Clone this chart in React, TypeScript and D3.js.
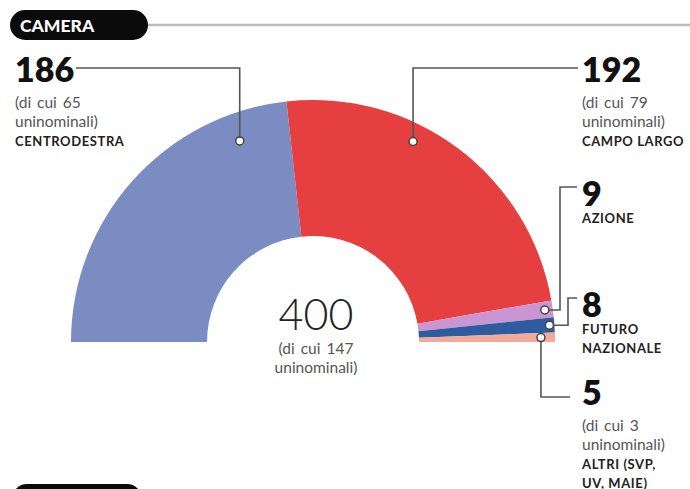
import React from "react";
import * as d3 from "d3";

// seats per coalition, Camera
const parties = ["CENTRODESTRA", "CAMPO LARGO", "AZIONE", "FUTURO NAZIONALE", "ALTRI"];
const seats = [186, 192, 9, 8, 5];
const uninominali = [65, 79, null, null, 3];
const colors = ["#7a8cc2", "#e63f40", "#c996d2", "#2f5b9f", "#f4a99b"];
const totalSeats = 400;
const totalUninominali = 147;

// label block lines (names broken as in the print)
const nameLines = [["CENTRODESTRA"], ["CAMPO LARGO"], ["AZIONE"], ["FUTURO", "NAZIONALE"], ["ALTRI (SVP,", "UV, MAIE)"]];

const W = 690;
const H = 489;
const cx = 313;
const cy = 342;
const outerR = 242;
const innerR = 106;

// where the dot sits inside each slice (fraction of the angle, radius) and where the text goes
const dotT = [0.836, 0.38, 0.5, 0.5, 0.5];
const dotR = [214, 224, 234, 237, 228];
const labelPos = [
  { x: 15, y: 82 },
  { x: 582, y: 82 },
  { x: 582, y: 206 },
  { x: 582, y: 317 },
  { x: 582, y: 405 },
];

const font = "Lato, 'Open Sans', sans-serif";

export default function App() {
  const pie = d3
    .pie<number>()
    .sort(null)
    .value((d) => d)
    .startAngle(-Math.PI / 2)
    .endAngle(Math.PI / 2);
  const arcs = pie(seats);
  const arc = d3.arc<d3.PieArcDatum<number>>().innerRadius(innerR).outerRadius(outerR);

  const dots = arcs.map((a, i) => {
    const ang = a.startAngle + (a.endAngle - a.startAngle) * dotT[i];
    return { x: cx + dotR[i] * Math.sin(ang), y: cy - dotR[i] * Math.cos(ang) };
  });

  // leader paths
  const leaders = [
    `M${labelPos[0].x + 61},${labelPos[0].y - 14}H${dots[0].x}V${dots[0].y}`,
    `M${labelPos[1].x - 4},${labelPos[1].y - 14}H${dots[1].x}V${dots[1].y}`,
    `M${labelPos[2].x - 5},${labelPos[2].y - 19}H${labelPos[2].x - 22}V${dots[2].y}H${dots[2].x}`,
    `M${labelPos[3].x - 5},${labelPos[3].y - 19}H${labelPos[3].x - 14}V${dots[3].y}H${dots[3].x}`,
    `M${labelPos[4].x - 12},${labelPos[4].y - 8}H${dots[4].x}V${dots[4].y}`,
  ];

  return (
    <svg width={W} height={H} style={{ position: "absolute", left: 0, top: 0, background: "#fff" }}>
      {/* header */}
      <line x1={140} x2={W} y1={25} y2={25} stroke="#bdbdbd" strokeWidth={2.5} />
      <rect x={10} y={10} width={138} height={30} rx={15} fill="#0b0b0b" />
      <text x={20} y={31.5} fill="#fff" fontFamily={font} fontWeight={900} fontSize={17.5}>
        CAMERA
      </text>
      <rect x={12} y={484} width={130} height={30} rx={15} fill="#0b0b0b" />

      {arcs.map((a, i) => (
        <path key={i} d={arc(a) || ""} transform={`translate(${cx},${cy})`} fill={colors[i]} />
      ))}

      {leaders.map((d, i) => (
        <path key={i} d={d} fill="none" stroke="#555" strokeWidth={1.6} />
      ))}
      {dots.map((p, i) => (
        <circle key={i} cx={p.x} cy={p.y} r={4} fill="#fff" stroke="#444" strokeWidth={1.5} />
      ))}

      {seats.map((s, i) => {
        const p = labelPos[i];
        const lines: { t: string; bold: boolean }[] = [];
        if (uninominali[i] !== null) {
          lines.push({ t: `(di cui ${uninominali[i]}`, bold: false });
          lines.push({ t: "uninominali)", bold: false });
        }
        nameLines[i].forEach((t) => lines.push({ t, bold: true }));
        const firstGap = uninominali[i] !== null ? 26 : 17;
        return (
          <g key={i} fontFamily={font}>
            <text x={p.x} y={p.y} fontSize={34} fontWeight={800} fill="#111">
              {s}
            </text>
            {lines.map((l, j) => (
              <text
                key={j}
                x={p.x}
                y={p.y + firstGap + j * 19}
                fontSize={l.bold ? 13 : 15.5}
                fontWeight={l.bold ? 700 : 400}
                fill={l.bold ? "#222" : "#555"}
                letterSpacing={l.bold ? 0.6 : 0}
                wordSpacing={l.bold ? 0 : 2}
              >
                {l.t}
              </text>
            ))}
          </g>
        );
      })}

      {/* total in the hole */}
      <text x={cx + 3} y={330} textAnchor="middle" fontFamily={font} fontWeight={300} fontSize={43} fill="#222">
        {totalSeats}
      </text>
      <text x={cx + 3} y={354} textAnchor="middle" fontFamily={font} fontSize={15.5} fill="#555" wordSpacing={2}>
        {`(di cui ${totalUninominali}`}
      </text>
      <text x={cx + 3} y={373} textAnchor="middle" fontFamily={font} fontSize={15.5} fill="#555">
        uninominali)
      </text>
    </svg>
  );
}
